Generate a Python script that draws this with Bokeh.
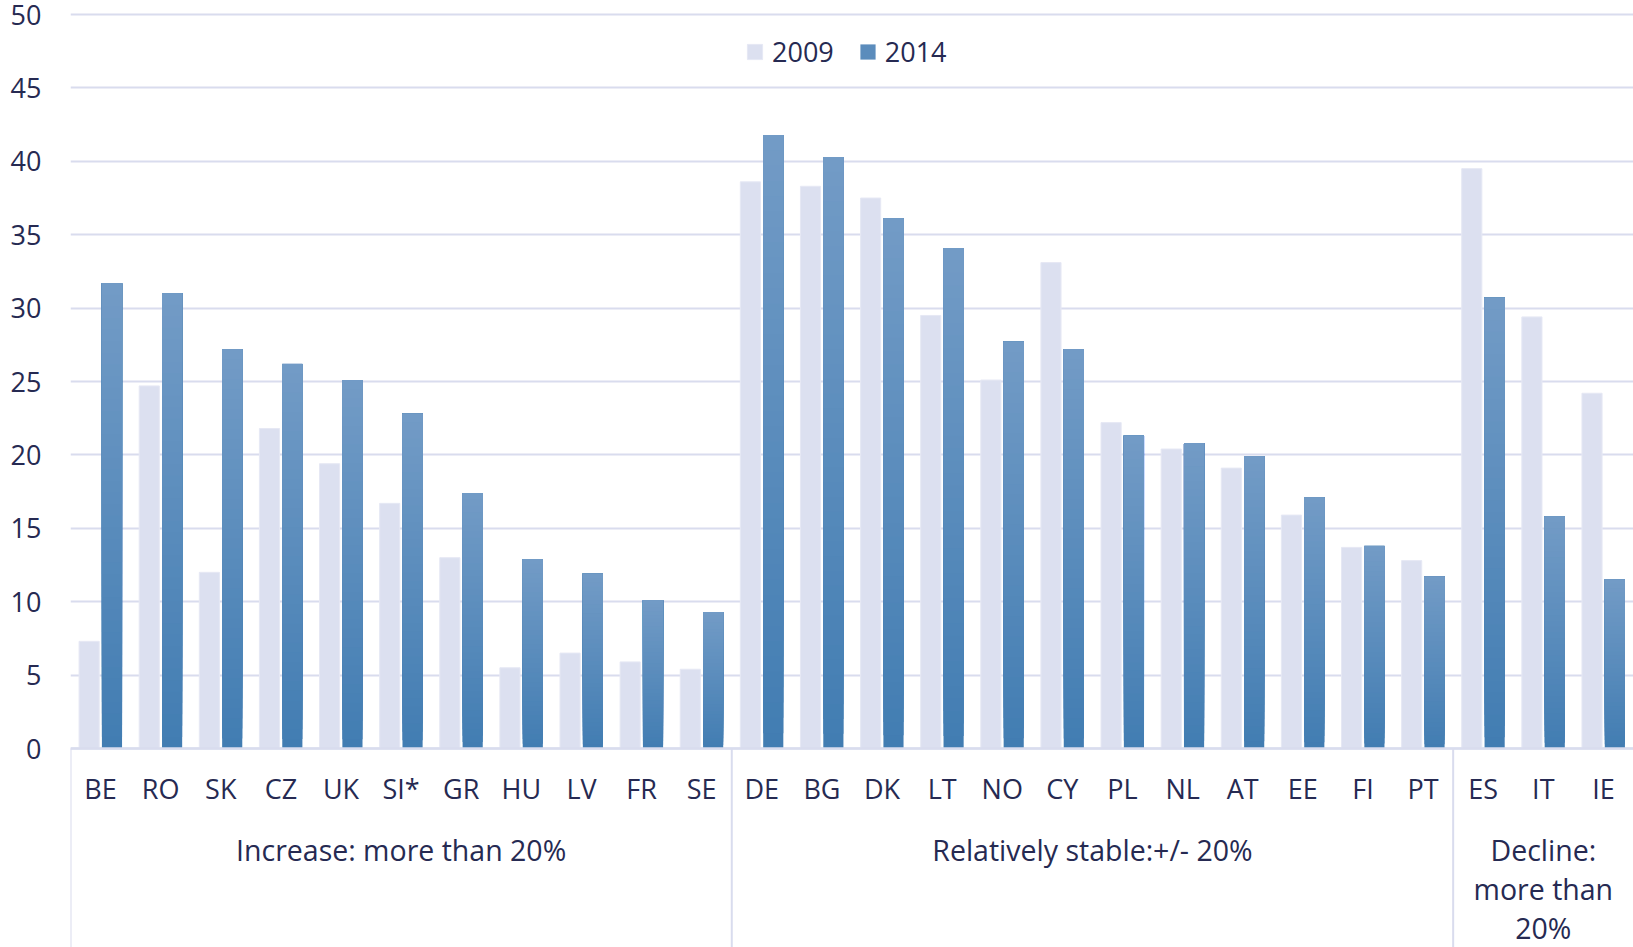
import numpy as np
from bokeh.plotting import figure
from bokeh.models import ColumnDataSource, Range1d, FixedTicker, Legend, LegendItem
from bokeh.core.properties import value
from bokeh.embed import file_html
from bokeh.resources import INLINE

# ---------------- data ----------------
countries = ["BE", "RO", "SK", "CZ", "UK", "SI*", "GR", "HU", "LV", "FR", "SE",
             "DE", "BG", "DK", "LT", "NO", "CY", "PL", "NL", "AT", "EE", "FI", "PT",
             "ES", "IT", "IE"]
v2009 = [7.3, 24.7, 12.0, 21.8, 19.4, 16.7, 13.0, 5.5, 6.5, 5.9, 5.4,
         38.6, 38.3, 37.5, 29.5, 25.1, 33.1, 22.2, 20.4, 19.1, 15.9, 13.7, 12.8,
         39.5, 29.4, 24.2]
v2014 = [31.7, 31.0, 27.2, 26.2, 25.1, 22.8, 17.4, 12.9, 11.9, 10.1, 9.3,
         41.8, 40.3, 36.1, 34.1, 27.7, 27.2, 21.3, 20.8, 19.9, 17.1, 13.8, 11.7,
         30.7, 15.8, 11.5]
group_labels = ["Increase: more than 20%", "Relatively stable:+/- 20%", "Decline:\nmore than\n20%"]
group_sizes = [11, 12, 3]
series_names = ["2009", "2014"]
y_ticks = [0, 5, 10, 15, 20, 25, 30, 35, 40, 45, 50]

# ---------------- style / layout ----------------
FONT = "Open Sans"
TXT = "#262a52"
GRID = "#d9dcee"
C2009 = "#dce0f0"
TOP_C = np.array([0x72, 0x9b, 0xc6])
BOT_C = np.array([0x42, 0x7d, 0xb2])

FRAME_W, FRAME_H = 1563, 935
LEFT, TOP = 70, 12
ZERO_PX = 736            # px from frame top to the zero line
PXU = 14.68              # px per unit
y_end = ZERO_PX / PXU
y_start = -(FRAME_H - ZERO_PX) / PXU

def px_below(px):
    return -px / PXU

n = len(countries)
idx = np.arange(n)
OFF, BW = 0.19, 0.335

p = figure(frame_width=FRAME_W, frame_height=FRAME_H,
           x_range=Range1d(-0.5, n - 0.5), y_range=Range1d(y_start, y_end),
           output_backend="svg", toolbar_location=None, x_axis_location=None,
           min_border_left=LEFT, min_border_right=0, min_border_top=TOP, min_border_bottom=0)
p.outline_line_color = None
p.xgrid.visible = False
p.ygrid.ticker = FixedTicker(ticks=y_ticks)
p.ygrid.grid_line_color = GRID
p.ygrid.grid_line_width = 2
ax = p.yaxis[0]
ax.ticker = FixedTicker(ticks=y_ticks)
ax.axis_line_color = None
ax.major_tick_line_color = None
ax.minor_tick_line_color = None
ax.major_label_standoff = 23
ax.major_label_text_font = FONT
ax.major_label_text_font_size = "27px"
ax.major_label_text_color = TXT

# 2009 bars
src09 = ColumnDataSource(dict(x=idx - OFF, top=v2009))
r09 = p.vbar(x="x", top="top", bottom=0, width=BW, source=src09,
             fill_color=C2009, line_color="#e6e8f4", line_width=1)

# 2014 bars with vertical gradient (stacked overpainting slices)
N = 40
xs, bots, tops, cols = [], [], [], []
for k in range(N):
    t = k / (N - 1)
    c = BOT_C + (TOP_C - BOT_C) * t
    col = "#%02x%02x%02x" % tuple(int(round(v)) for v in c)
    for i in range(n):
        xs.append(idx[i] + OFF)
        bots.append(v2014[i] * k / N)
        tops.append(v2014[i])
        cols.append(col)
src14 = ColumnDataSource(dict(x=xs, bottom=bots, top=tops, color=cols))
r14 = p.vbar(x="x", top="top", bottom="bottom", width=BW, source=src14,
             fill_color="color", line_color=None)

# zero line
p.segment(x0=[-0.5], x1=[n - 0.5], y0=[0], y1=[0], line_color=GRID, line_width=2.5)

# category labels
p.text(x=idx, y=px_below(40), text=countries, text_align="center",
       text_baseline="alphabetic", text_font=value(FONT), text_font_size="27px",
       text_color=TXT)

# group separators and labels
bounds = np.concatenate([[0], np.cumsum(group_sizes)]) - 0.5
p.segment(x0=bounds[:-1], x1=bounds[:-1], y0=[0] * len(group_sizes),
          y1=[y_start] * len(group_sizes), line_color=GRID, line_width=2)
gx, gy, gt = [], [], []
for g, lab in enumerate(group_labels):
    cx = (bounds[g] + bounds[g + 1]) / 2
    for j, line in enumerate(lab.split("\n")):
        gx.append(cx)
        gy.append(px_below(101 + 39 * j))
        gt.append(line)
p.text(x=gx, y=gy, text=gt, text_align="center", text_baseline="alphabetic",
       text_font=value(FONT), text_font_size="28.5px", text_color=TXT)

# legend
legend = Legend(items=[LegendItem(label=series_names[0], renderers=[r09], index=0),
                       LegendItem(label=series_names[1], renderers=[r14], index=(N // 2) * n)],
                orientation="horizontal", location=(675, 877),
                glyph_width=19, glyph_height=19, label_standoff=8, spacing=24,
                padding=0, margin=0, border_line_color=None, background_fill_alpha=0,
                label_text_font=FONT, label_text_font_size="27px", label_text_color=TXT)
p.add_layout(legend, "center")

open("out.html", "w").write(file_html(p, INLINE))
